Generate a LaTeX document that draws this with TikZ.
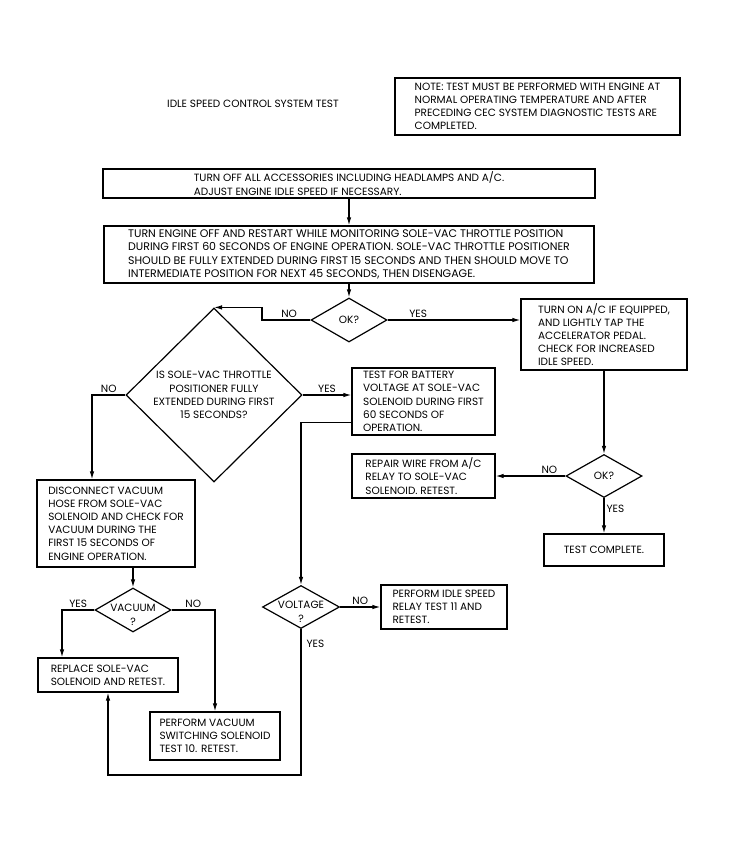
\documentclass[tikz,border=0pt]{standalone}
\usepackage{fontspec}
\setmainfont{Poppins}
\usetikzlibrary{shapes.geometric,arrows.meta}

\begin{document}
\begin{tikzpicture}[x=1pt, y=-1pt,
        font=\fontsize{10.5}{13.2}\selectfont,
        box/.style={draw, line width=1.2pt, align=left, inner sep=2.5pt},
        dia/.style={draw, diamond, line width=1.2pt, inner sep=0pt, align=center},
        conn/.style={line width=1.2pt, -{Latex[length=8pt,width=4.5pt]}},
        lbl/.style={inner sep=2pt}]
        \useasboundingbox (0,0) rectangle (733,854);

        % Title and note
        \node (title) at (253,104) {IDLE SPEED CONTROL SYSTEM TEST};
        \node[box, minimum width=285pt, minimum height=57pt] (note) at (537.5,106.5)
            {NOTE: TEST MUST BE PERFORMED WITH ENGINE AT\\NORMAL OPERATING TEMPERATURE AND AFTER\\PRECEDING CEC SYSTEM DIAGNOSTIC TESTS ARE\\COMPLETED.};

        % Top boxes
        \node[box, minimum width=492pt, minimum height=29pt] (acc) at (349,183.5)
            {TURN OFF ALL ACCESSORIES INCLUDING HEADLAMPS AND A/C.\\ADJUST ENGINE IDLE SPEED IF NECESSARY.};
        \node[box, minimum width=490pt, minimum height=57pt, font=\fontsize{11}{13.4}\selectfont] (restart) at (349,254.5)
            {TURN ENGINE OFF AND RESTART WHILE MONITORING SOLE-VAC THROTTLE POSITION\\DURING FIRST 60 SECONDS OF ENGINE OPERATION. SOLE-VAC THROTTLE POSITIONER\\SHOULD BE FULLY EXTENDED DURING FIRST 15 SECONDS AND THEN SHOULD MOVE TO\\INTERMEDIATE POSITION FOR NEXT 45 SECONDS, THEN DISENGAGE.};
        \node[dia, minimum width=76pt, minimum height=44pt] (ok1) at (349,320) {OK?};

        % Right branch
        \node[box, minimum width=166pt, minimum height=71pt] (tapac) at (604,334.5)
            {TURN ON A/C IF EQUIPPED,\\AND LIGHTLY TAP THE\\ACCELERATOR PEDAL.\\CHECK FOR INCREASED\\IDLE SPEED.};
        \node[dia, minimum width=76pt, minimum height=43pt] (ok2) at (604,476) {OK?};
        \node[box, minimum width=143pt, minimum height=44pt] (repair) at (423.5,476)
            {REPAIR WIRE FROM A/C\\RELAY TO SOLE-VAC\\SOLENOID. RETEST.};
        \node[box, minimum width=120pt, minimum height=32pt] (done) at (604,550) {TEST COMPLETE.};

        % Middle branch
        \node[dia, minimum width=176pt, minimum height=174pt] (ext) at (214,395)
            {IS SOLE-VAC THROTTLE\\POSITIONER FULLY\\EXTENDED DURING FIRST\\15 SECONDS?};
        \node[box, minimum width=143pt, minimum height=67pt] (batt) at (423.5,401.5)
            {TEST FOR BATTERY\\VOLTAGE AT SOLE-VAC\\SOLENOID DURING FIRST\\60 SECONDS OF\\OPERATION.};
        \node[dia, minimum width=77pt, minimum height=43pt] (volt) at (301,607)
            {\rule{0pt}{17pt}\makebox[0pt]{VOLTAGE}\\?};
        \node[box, minimum width=126pt, minimum height=44pt] (relay) at (444,607)
            {PERFORM IDLE SPEED\\RELAY TEST 11 AND\\RETEST.};

        % Left branch
        \node[box, minimum width=158pt, minimum height=87pt] (disc) at (116,523.5)
            {DISCONNECT VACUUM\\HOSE FROM SOLE-VAC\\SOLENOID AND CHECK FOR\\VACUUM DURING THE\\FIRST 15 SECONDS OF\\ENGINE OPERATION.};
        \node[dia, minimum width=76pt, minimum height=44pt] (vac) at (133,610)
            {\rule{0pt}{17pt}\makebox[0pt]{VACUUM}\\?};
        \node[box, minimum width=140pt, minimum height=34pt] (repl) at (108,675)
            {REPLACE SOLE-VAC\\SOLENOID AND RETEST.};
        \node[box, minimum width=130pt, minimum height=48pt] (vacsw) at (215,736)
            {PERFORM VACUUM\\SWITCHING SOLENOID\\TEST 10. RETEST.};

        % Bends
        \coordinate (nobend) at (262,314);
        \coordinate (loopc) at (301,775);

        % Connectors
        \draw[conn] (acc) -- (restart);
        \draw[conn] (restart) -- (ok1);
        \draw[conn] (ok1.west) -| node[lbl, above, pos=0.22] {NO} (nobend) |- (ext.north);
        \draw[conn] (ok1.east) -- node[lbl, above, pos=0.23] {YES} (ok1.east -| tapac.west);
        \draw[conn] (tapac) -- (ok2);
        \draw[conn] (ok2.west) -- node[lbl, above, pos=0.23] {NO} (repair.east);
        \draw[conn] (ok2) -- node[lbl, right, pos=0.3] {YES} (done);
        \draw[conn] (ext.east) -- node[lbl, above] {YES} (ext.east -| batt.west);
        \draw[conn] (ext.west) -| node[lbl, above, pos=0.25] {NO} ([xshift=-24pt]disc.north);
        \draw[conn] ([yshift=13pt]batt.south west) -| (volt.north);
        \draw[conn] (volt.east) -- node[lbl, above] {NO} (relay.west);
        \draw[conn] (disc.south -| vac.north) -- (vac.north);
        \draw[conn] (vac.west) -| node[lbl, above, pos=0.25] {YES} ([xshift=-46pt]repl.north);
        \draw[conn] (vac.east) -| node[lbl, above, pos=0.25] {NO} (vacsw.north);
        \draw[conn] (volt.south) -- node[lbl, right, pos=0.1, xshift=3pt] {YES} (loopc) -| (repl.south);
    \end{tikzpicture}
\end{document}
